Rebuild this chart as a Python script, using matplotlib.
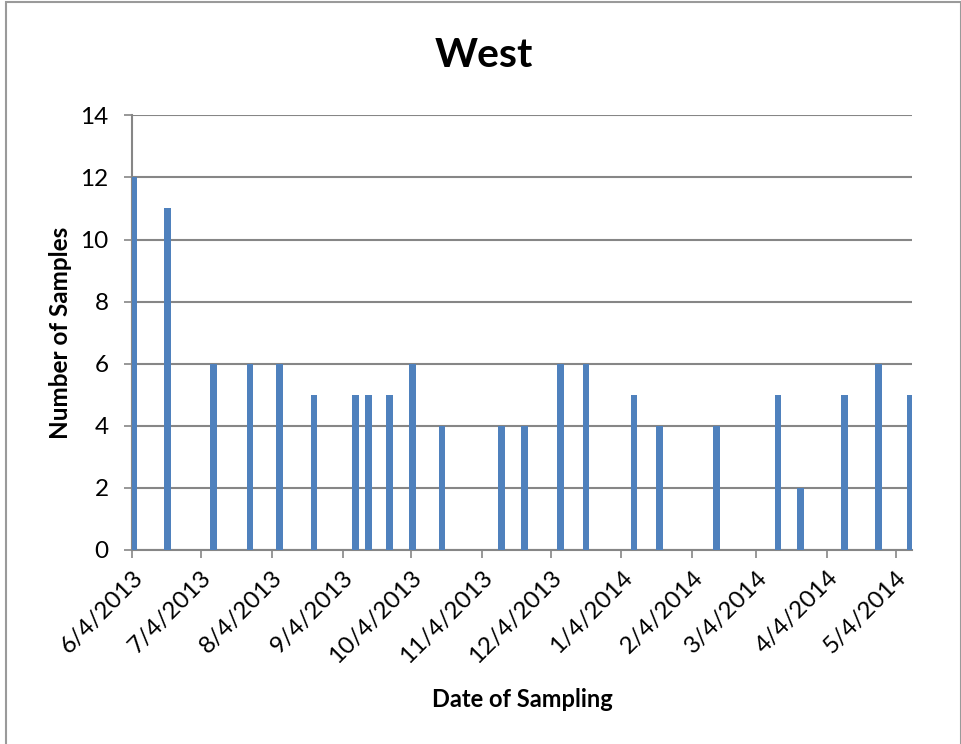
import matplotlib
matplotlib.use("Agg")
import matplotlib.pyplot as plt
import matplotlib.dates as mdates
from matplotlib.patches import Rectangle
import pandas as pd

plt.rcParams['font.family'] = ['Lato', 'DejaVu Sans']

# Sampling dates and number of samples collected on each
sample_dates = [
    "2013-06-04", "2013-06-19", "2013-07-09", "2013-07-25", "2013-08-07",
    "2013-08-22", "2013-09-09", "2013-09-15", "2013-09-24", "2013-10-04",
    "2013-10-17", "2013-11-12", "2013-11-22", "2013-12-08", "2013-12-19",
    "2014-01-09", "2014-01-20", "2014-02-14", "2014-03-13", "2014-03-23",
    "2014-04-11", "2014-04-26", "2014-05-10",
]
sample_counts = [12, 11, 6, 6, 6, 5, 5, 5, 5, 6, 4, 4, 4, 6, 6, 5, 4, 4, 5, 2, 5, 6, 5]

tick_dates = [
    "2013-06-04", "2013-07-04", "2013-08-04", "2013-09-04", "2013-10-04",
    "2013-11-04", "2013-12-04", "2014-01-04", "2014-02-04", "2014-03-04",
    "2014-04-04", "2014-05-04",
]
y_ticks = [0, 2, 4, 6, 8, 10, 12, 14]

dates = pd.to_datetime(sample_dates)
ticks = pd.to_datetime(tick_dates)

BAR = "#4F81BD"
GRID = "#868686"

fig = plt.figure(figsize=(9.62, 7.44), dpi=100)
ax = fig.add_axes([0.1375, 0.2608, 0.9477 - 0.1375, 0.845 - 0.2608])

# each day is a slot on the date axis; columns sit in the middle of their day
x = mdates.date2num(dates) + 0.5
ax.bar(x, sample_counts, width=3.0, color=BAR, zorder=3, linewidth=0)

ax.set_xlim(mdates.date2num(pd.Timestamp("2013-06-04")),
            mdates.date2num(pd.Timestamp("2014-05-11")))
ax.set_ylim(0, 14)
ax.set_yticks(y_ticks)
ax.set_xticks(mdates.date2num(ticks))
ax.set_xticklabels([f"{d.month}/{d.day}/{d.year}" for d in ticks],
                   rotation=45, ha="right", rotation_mode="anchor")

ax.yaxis.grid(True, color=GRID, linewidth=1.5, zorder=0)
ax.set_axisbelow(True)
for side in ("top", "right"):
    ax.spines[side].set_visible(False)
for side in ("left", "bottom"):
    ax.spines[side].set_color(GRID)
    ax.spines[side].set_linewidth(1.5)
    ax.spines[side].set_zorder(2)

ax.tick_params(axis="both", direction="out", length=6, width=1.2, color=GRID,
               labelsize=17.5, labelcolor="black")
ax.tick_params(axis="y", pad=11)
ax.tick_params(axis="x", pad=6)

fig.text(484 / 962, 1 - 67 / 744, "West", fontsize=29.5, fontweight="bold",
         ha="center", va="baseline")
ax.set_xlabel("Date of Sampling", fontsize=17, fontweight="bold", labelpad=15)
ax.set_ylabel("Number of Samples", fontsize=17.5, fontweight="bold", labelpad=6)

# outer chart border
fig.patches.append(Rectangle((6 / 962, -0.01), (961 - 6) / 962, (741 + 8) / 744,
                             transform=fig.transFigure, fill=False,
                             edgecolor="#9A9A9A", linewidth=1.5))

fig.savefig("out.png", dpi=100)
